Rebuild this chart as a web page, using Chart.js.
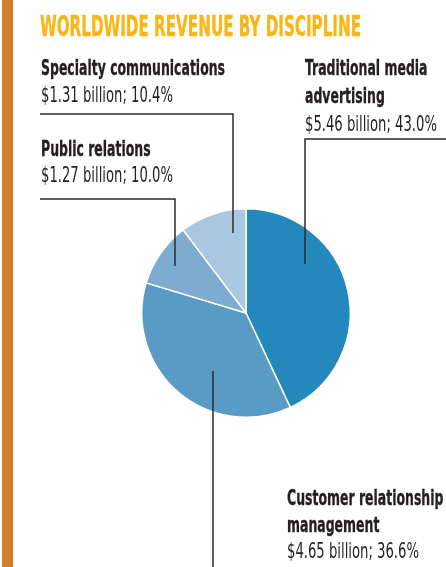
<!DOCTYPE html>
<html>
<head>
<meta charset="utf-8">
<script src="https://cdn.jsdelivr.net/npm/chart.js@4.4.1/dist/chart.umd.min.js"></script>
<style>
  html, body { margin: 0; padding: 0; background: #fff; overflow: hidden; }
  #wrap { width: 446px; height: 567px; }
</style>
</head>
<body>
<div id="wrap"><canvas id="pieChart"></canvas></div>
<script>
var categories = ["Traditional media advertising", "Customer relationship management", "Public relations", "Specialty communications"];
var revenue = [5.46, 4.65, 1.27, 1.31];   // $ billion
var shares = [43.0, 36.6, 10.0, 10.4];    // % as printed
var sliceColors = ["#2389bc", "#5a9bc6", "#7eabd0", "#a9c7e0"];
var title = "WORLDWIDE REVENUE BY DISCIPLINE";

var FONT = '"Liberation Sans Narrow", "DejaVu Sans Condensed", sans-serif';
var INK = "#231f20";

// callout text spot + leader line (elbow) for each slice, same order as categories
var callouts = [
  {x: 305, y: 75, step: 28, wrap: 130, leader: [[446, 139], [305, 139], [305, 264]]},
  {x: 287, y: 505, step: 26.5, wrap: 160, leader: [[213, 371], [213, 567]]},
  {x: 41, y: 156, step: 26, wrap: 200, leader: [[40, 199], [175, 199], [175, 266]]},
  {x: 41, y: 75, step: 27, wrap: 200, leader: [[40, 114], [233, 114], [233, 233]]}
];

// squeeze text sideways, the print face is very condensed
function squeeze(ctx, font, sample, target) {
  ctx.font = font;
  return target / ctx.measureText(sample).width;
}

// fill + thin stroke to get the heavier print weight
function drawText(ctx, text, x, y, sx, heavy) {
  ctx.save();
  ctx.translate(x, y);
  ctx.scale(sx, 1);
  ctx.fillText(text, 0, 0);
  if (heavy) {
    ctx.lineWidth = heavy;
    ctx.strokeStyle = ctx.fillStyle;
    ctx.strokeText(text, 0, 0);
  }
  ctx.restore();
}

function wrapWords(ctx, text, maxW, sx) {
  var words = text.split(" ");
  var lines = [];
  var cur = "";
  words.forEach(function(w) {
    var test = cur ? cur + " " + w : w;
    if (cur && ctx.measureText(test).width * sx > maxW) {
      lines.push(cur);
      cur = w;
    } else {
      cur = test;
    }
  });
  lines.push(cur);
  return lines;
}

var calloutPlugin = {
  id: "callouts",
  beforeDraw: function(chart) {
    var ctx = chart.ctx;
    ctx.save();
    ctx.fillStyle = "#d17e2c";
    ctx.fillRect(2, 0, 11, chart.height);
    ctx.restore();
  },
  afterDraw: function(chart) {
    var ctx = chart.ctx;
    var boldFont = "bold 22px " + FONT;
    var regFont = "22px " + FONT;
    var titleFont = "bold 28px " + FONT;
    var sxBold = squeeze(ctx, boldFont, "Specialty communications", 184);
    var sxReg = squeeze(ctx, regFont, "$1.31 billion; 10.4%", 132);
    var sxTitle = squeeze(ctx, titleFont, title, 321);

    ctx.save();
    ctx.textBaseline = "alphabetic";
    ctx.textAlign = "left";

    // title
    ctx.font = titleFont;
    ctx.fillStyle = "#fbb614";
    drawText(ctx, title, 40, 36, sxTitle, 0.4);

    ctx.fillStyle = INK;
    callouts.forEach(function(c, i) {
      ctx.font = boldFont;
      var lines = wrapWords(ctx, categories[i], c.wrap, sxBold);
      var y = c.y;
      lines.forEach(function(l) {
        drawText(ctx, l, c.x, y, sxBold, 0.35);
        y += c.step;
      });
      ctx.font = regFont;
      var val = "$" + revenue[i].toFixed(2) + " billion; " + shares[i].toFixed(1) + "%";
      drawText(ctx, val, c.x, y, sxReg, 0);

      // leader line
      ctx.strokeStyle = "#2b2b2b";
      ctx.lineWidth = 1.5;
      ctx.beginPath();
      c.leader.forEach(function(p, k) {
        if (k === 0) ctx.moveTo(p[0], p[1]);
        else ctx.lineTo(p[0], p[1]);
      });
      ctx.stroke();
    });
    ctx.restore();
  }
};

new Chart("pieChart", {
  type: "pie",
  data: {
    labels: categories,
    datasets: [{
      data: revenue,
      backgroundColor: sliceColors,
      borderColor: "#ffffff",
      borderWidth: 1.5
    }]
  },
  options: {
    responsive: true,
    maintainAspectRatio: false,
    animation: false,
    layout: {
      padding: {left: 141, right: 95, top: 208, bottom: 149}
    },
    plugins: {
      legend: {display: false},
      tooltip: {enabled: false}
    }
  },
  plugins: [calloutPlugin]
});
</script>
</body>
</html>
